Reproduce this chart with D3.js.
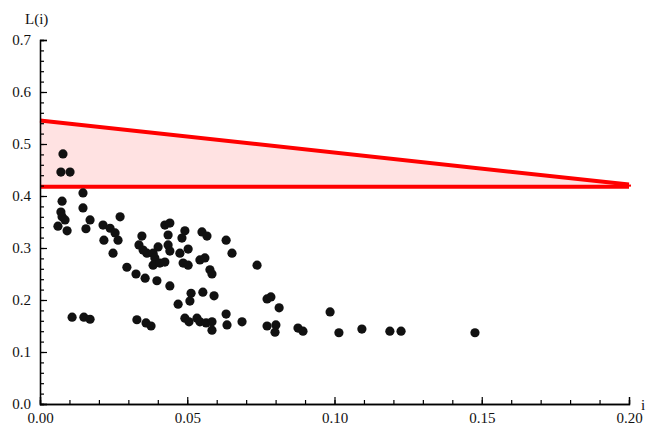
<!DOCTYPE html>
<html>
<head>
<meta charset="utf-8">
<script src="https://cdn.jsdelivr.net/npm/d3@7"></script>
<style>
  body { margin: 0; background: #fff; }
  svg text { font-family: "Liberation Serif", "DejaVu Serif", serif; fill: #111; }
</style>
</head>
<body>
<div id="chart"></div>
<script>
// scatter points
var pointX = [0.0078, 0.0071, 0.0102, 0.0146, 0.0075, 0.0146, 0.0071, 0.0075, 0.0085, 0.0061,
  0.0092, 0.0170, 0.0156, 0.0272, 0.0214, 0.0238, 0.0255, 0.0265, 0.0217, 0.0248,
  0.0346, 0.0336, 0.0424, 0.0441, 0.0435, 0.0492, 0.0482, 0.0550, 0.0567, 0.0632,
  0.0652, 0.0401, 0.0435, 0.0441, 0.0363, 0.0350, 0.0384, 0.0390, 0.0384, 0.0407,
  0.0424, 0.0475, 0.0503, 0.0486, 0.0503, 0.0543, 0.0560, 0.0577, 0.0584, 0.0737,
  0.0295, 0.0326, 0.0357, 0.0397, 0.0441, 0.0469, 0.0513, 0.0509, 0.0553, 0.0591,
  0.0771, 0.0784, 0.0812, 0.0985, 0.0632, 0.0109, 0.0149, 0.0170, 0.0329, 0.0360,
  0.0377, 0.0492, 0.0506, 0.0533, 0.0543, 0.0564, 0.0584, 0.0584, 0.0635, 0.0686,
  0.0771, 0.0801, 0.0798, 0.0876, 0.0893, 0.1015, 0.1093, 0.1188, 0.1226, 0.1477]
var pointY = [0.481, 0.446, 0.446, 0.406, 0.390, 0.377, 0.369, 0.360, 0.354, 0.342,
  0.333, 0.354, 0.337, 0.360, 0.344, 0.338, 0.329, 0.315, 0.315, 0.290,
  0.323, 0.306, 0.344, 0.348, 0.325, 0.333, 0.319, 0.331, 0.323, 0.315,
  0.290, 0.302, 0.306, 0.294, 0.290, 0.296, 0.290, 0.281, 0.267, 0.271,
  0.273, 0.290, 0.298, 0.271, 0.267, 0.277, 0.281, 0.258, 0.250, 0.267,
  0.263, 0.250, 0.242, 0.237, 0.227, 0.192, 0.213, 0.198, 0.215, 0.208,
  0.202, 0.206, 0.185, 0.177, 0.173, 0.167, 0.167, 0.163, 0.162, 0.156,
  0.150, 0.165, 0.158, 0.165, 0.158, 0.156, 0.158, 0.142, 0.152, 0.158,
  0.150, 0.152, 0.138, 0.146, 0.140, 0.137, 0.144, 0.140, 0.140, 0.137]

// red band: upper edge falls, lower edge flat
var bandX = [0, 0.2]
var bandUpper = [0.545, 0.422]
var bandLower = [0.418, 0.418]

var xTicks = [0, 0.05, 0.10, 0.15, 0.20]
var yTicks = [0, 0.1, 0.2, 0.3, 0.4, 0.5, 0.6, 0.7]

var width = 646, height = 428
var margin = {left: 40, right: 17, top: 40, bottom: 24}

var svg = d3.select('#chart').append('svg')
  .attr('width', width)
  .attr('height', height)

var x = d3.scaleLinear().domain([0, 0.2]).range([margin.left, width - margin.right])
var y = d3.scaleLinear().domain([0, 0.7]).range([height - margin.bottom, margin.top])

// band
var band = bandX.map(function(d, i){ return {x: d, hi: bandUpper[i], lo: bandLower[i]} })

svg.append('path')
  .datum(band)
  .attr('fill', '#ffe2e2')
  .attr('d', d3.area().x(function(d){ return x(d.x) }).y0(function(d){ return y(d.lo) }).y1(function(d){ return y(d.hi) }))

var line = d3.line().x(function(d){ return x(d[0]) }).y(function(d){ return y(d[1]) })
var redLines = [
  band.map(function(d){ return [d.x, d.hi] }),
  band.map(function(d){ return [d.x, d.lo] }),
  [[bandX[1], bandUpper[1]], [bandX[1], bandLower[1]]]
]
svg.selectAll('path.red').data(redLines).enter().append('path')
  .attr('class', 'red')
  .attr('fill', 'none')
  .attr('stroke', '#ff0000')
  .attr('stroke-width', 4)
  .attr('d', line)

// points
svg.selectAll('circle').data(pointX).enter().append('circle')
  .attr('cx', function(d){ return x(d) })
  .attr('cy', function(d, i){ return y(pointY[i]) })
  .attr('r', 4.6)
  .attr('fill', '#111')

// axes (ticks point inward, like the original)
var xAxis = d3.axisBottom(x).tickValues(xTicks).tickSize(-7).tickPadding(8).tickFormat(d3.format('.2f'))
var xMinor = d3.axisBottom(x).tickValues(d3.range(0, 0.2001, 0.01)).tickSize(-4).tickFormat('')
var yAxis = d3.axisLeft(y).tickValues(yTicks).tickSize(-7).tickPadding(9).tickFormat(d3.format('.1f'))
var yMinor = d3.axisLeft(y).tickValues(d3.range(0, 0.7001, 0.02)).tickSize(-4).tickFormat('')

function styleAxis(g){
  g.select('.domain').attr('stroke', '#000').attr('stroke-width', 1.3)
  g.selectAll('.tick line').attr('stroke', '#000').attr('stroke-width', 1.2)
  g.selectAll('.tick text').style('font-size', '15px').attr('fill', '#111')
}

svg.append('g').attr('transform', 'translate(0,' + y(0) + ')').call(xMinor).call(styleAxis)
svg.append('g').attr('transform', 'translate(0,' + y(0) + ')').call(xAxis).call(styleAxis)
svg.append('g').attr('transform', 'translate(' + x(0) + ',0)').call(yMinor).call(styleAxis)
svg.append('g').attr('transform', 'translate(' + x(0) + ',0)').call(yAxis).call(styleAxis)

// axis labels
svg.append('text')
  .attr('x', x(0.2) + 12)
  .attr('y', y(0) + 6)
  .style('font-size', '15px')
  .text('i')

svg.append('text')
  .attr('x', 25)
  .attr('y', 24)
  .style('font-size', '15px')
  .text('L(i)')
</script>
</body>
</html>
